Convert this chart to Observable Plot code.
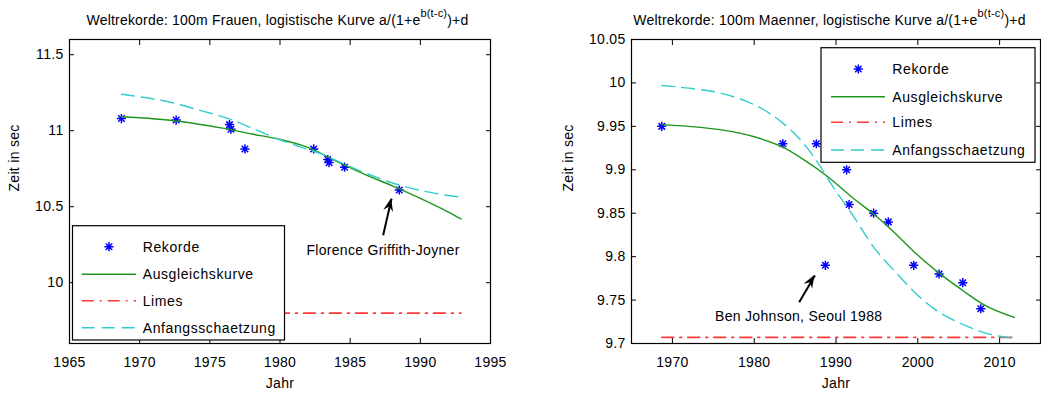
<!DOCTYPE html>
<html><head><meta charset="utf-8">
<script src="https://cdn.jsdelivr.net/npm/d3@7"></script>
<script src="https://cdn.jsdelivr.net/npm/@observablehq/plot@0.6"></script>
<style>
body{margin:0;background:#fff;color:#000;}
#wrap{position:relative;width:1041px;height:394px;overflow:hidden;}
#wrap > div{position:absolute;top:0;}
</style></head><body><div id="wrap"><div id="p1" style="left:0"></div><div id="p2" style="left:520px"></div></div>
<script>
// ---------- texts ----------
const titleWomen = "Weltrekorde: 100m Frauen, logistische Kurve a/(1+e";
const titleMen = "Weltrekorde: 100m Maenner, logistische Kurve a/(1+e";
const titleSup = "b(t-c)";
const titleEnd = ")+d";
const xLabel = "Jahr";
const yLabel = "Zeit in sec";
const legendLabels = ["Rekorde", "Ausgleichskurve", "Limes", "Anfangsschaetzung"];
const noteWomen = "Florence Griffith-Joyner";
const noteMen = "Ben Johnson, Seoul 1988";

// ---------- ticks ----------
const womenXTicks = [1965, 1970, 1975, 1980, 1985, 1990, 1995];
const womenYTicks = [10, 10.5, 11, 11.5];
const menXTicks = [1970, 1980, 1990, 2000, 2010];
const menYTicks = [9.7, 9.75, 9.8, 9.85, 9.9, 9.95, 10, 10.05];

// ---------- women data ----------
const womenYears = [1968.7, 1972.6, 1976.4, 1976.5, 1977.5, 1982.4, 1983.4, 1983.5, 1984.6, 1988.5];
const womenTimes = [11.08, 11.07, 11.04, 11.01, 10.88, 10.88, 10.81, 10.79, 10.76, 10.61];
const womenFitYears = [1968.7, 1970, 1972, 1974, 1976, 1978, 1980, 1982, 1984, 1986, 1988, 1990, 1992, 1992.9];
const womenFitTimes = [11.092, 11.085, 11.07, 11.046, 11.015, 10.978, 10.943, 10.89, 10.80, 10.715, 10.637, 10.555, 10.465, 10.42];
const womenStartYears = [1968.7, 1972.6, 1974.3, 1976.5, 1978.1, 1979.8, 1981.5, 1982.9, 1984.5, 1986.2, 1988.5, 1990.7, 1992.9];
const womenStartTimes = [11.24, 11.178, 11.134, 11.074, 11.013, 10.947, 10.892, 10.849, 10.783, 10.717, 10.642, 10.594, 10.562];
const womenLimesYears = [1968.7, 1992.9];
const womenLimes = 9.8;
const womenArrow = {x1: 1987.35, y1: 10.312, x2: 1987.95, y2: 10.553};
const womenNote = {x: 1987.34, y: 10.209};

// ---------- men data ----------
const menYears = [1968.7, 1983.5, 1987.6, 1988.7, 1991.3, 1991.6, 1994.6, 1996.4, 1999.5, 2002.6, 2005.5, 2007.7];
const menTimes = [9.95, 9.93, 9.93, 9.79, 9.90, 9.86, 9.85, 9.84, 9.79, 9.78, 9.77, 9.74];
const menFitYears = [1968.7, 1972, 1976, 1980, 1983.5, 1986, 1989, 1992, 1994.6, 1997, 1999.5, 2002.6, 2005.5, 2008, 2011.8];
const menFitTimes = [9.952, 9.950, 9.946, 9.938, 9.926, 9.912, 9.892, 9.868, 9.849, 9.829, 9.806, 9.781, 9.761, 9.745, 9.730];
const menStartYears = [1968.7, 1972, 1976, 1979, 1981, 1983.2, 1985, 1986.5, 1988, 1989.6, 1992.1, 1994.6, 1997.4, 1999.5, 2002.6, 2005.5, 2008.3, 2011.8];
const menStartTimes = [9.997, 9.994, 9.988, 9.979, 9.970, 9.956, 9.941, 9.925, 9.905, 9.881, 9.847, 9.811, 9.781, 9.760, 9.736, 9.722, 9.712, 9.706];
const menLimesYears = [1968.7, 2011.8];
const menLimes = 9.707;
const menArrow = {x1: 1985.5, y1: 9.7475, x2: 1987.42, y2: 9.7783};
const menNote = {x: 1985.44, y: 9.7313};

// ---------- styles ----------
const FONT = "'Liberation Sans', Arial, Helvetica, sans-serif";
const C_REC = "#0000ff", C_FIT = "#1e961e", C_LIM = "#ff3838", C_START = "#33cccc";
const DASH_LIM = "12,6,2,6", DASH_START = "13,7";

const star8 = {
  draw(ctx, size) {
    const r = Math.sqrt(size / Math.PI), d = r * Math.SQRT1_2;
    ctx.moveTo(0, -r); ctx.lineTo(0, r);
    ctx.moveTo(-r, 0); ctx.lineTo(r, 0);
    ctx.moveTo(-d, -d); ctx.lineTo(d, d);
    ctx.moveTo(-d, d); ctx.lineTo(d, -d);
  }
};

const zip = (xs, ys) => xs.map((x, i) => ({x, y: ys[i]}));
const fmt = d => String(+d.toFixed(2));

function makePanel(cfg) {
  const recs = zip(cfg.years, cfg.times);
  const fit = zip(cfg.fitYears, cfg.fitTimes);
  const start = zip(cfg.startYears, cfg.startTimes);
  const limes = cfg.limesYears.map(x => ({x, y: cfg.limes}));
  const svg = Plot.plot({
    width: cfg.width, height: 394,
    marginLeft: cfg.ml, marginRight: cfg.mr, marginTop: 39, marginBottom: 51,
    style: {fontSize: "14px", fontFamily: FONT, letterSpacing: "0.3px", background: "white", overflow: "visible"},
    x: {domain: cfg.xDomain},
    y: {domain: cfg.yDomain},
    marks: [
      Plot.axisX(cfg.xTicks, {anchor: "bottom", tickSize: 5, dy: -5, fill: "none", label: null}),
      Plot.axisX(cfg.xTicks, {anchor: "top", tickSize: 5, dy: 5, fill: "none", label: null}),
      Plot.axisY(cfg.yTicks, {anchor: "left", tickSize: 5, dx: 5, fill: "none", label: null}),
      Plot.axisY(cfg.yTicks, {anchor: "right", tickSize: 5, dx: -5, fill: "none", label: null}),
      Plot.axisX(cfg.xTicks, {anchor: "bottom", tickSize: 0, tickPadding: 14, label: null, tickFormat: d => String(d)}),
      Plot.axisY(cfg.yTicks, {anchor: "left", tickSize: 0, tickPadding: 6, label: null, tickFormat: fmt}),
      Plot.text([xLabel], {frameAnchor: "bottom", text: d => d, dy: 44}),
      Plot.text([yLabel], {frameAnchor: "left", text: d => d, rotate: -90, dx: cfg.yLabelDx}),
      Plot.dot(recs, {x: "x", y: "y", symbol: star8, r: 4.6, stroke: C_REC, fill: "none", strokeWidth: 1.5}),
      Plot.line(fit, {x: "x", y: "y", stroke: C_FIT, strokeWidth: 1.4, curve: "monotone-x"}),
      Plot.line(limes, {x: "x", y: "y", stroke: C_LIM, strokeWidth: 1.6, strokeDasharray: DASH_LIM}),
      Plot.line(start, {x: "x", y: "y", stroke: C_START, strokeWidth: 1.4, strokeDasharray: DASH_START, curve: "monotone-x"}),
      Plot.link([cfg.arrow], {x1: "x1", y1: "y1", x2: "x2", y2: "y2", stroke: "black", strokeWidth: 2}),
      Plot.text([cfg.note], {x: "x", y: "y", text: () => cfg.noteText, letterSpacing: "0.4px"}),
      Plot.frame({stroke: "black", strokeWidth: 1.2})
    ]
  });
  const sx = svg.scale("x"), sy = svg.scale("y");
  const S = d3.select(svg);
  // arrow head
  const tx = sx.apply(cfg.arrow.x2), ty = sy.apply(cfg.arrow.y2);
  const bx = sx.apply(cfg.arrow.x1), by = sy.apply(cfg.arrow.y1);
  const len = Math.hypot(tx - bx, ty - by), ux = (tx - bx) / len, uy = (ty - by) / len;
  const nx = -uy, ny = ux, L = 13, W = 5;
  const pts = [[tx, ty], [tx - L * ux + W * nx, ty - L * uy + W * ny], [tx - 0.65 * L * ux, ty - 0.65 * L * uy], [tx - L * ux - W * nx, ty - L * uy - W * ny]];
  S.append("path").attr("d", "M" + pts.map(p => p.join(",")).join("L") + "Z").attr("fill", "black");
  // title
  const cx = (cfg.ml + cfg.width - cfg.mr) / 2 + cfg.titleDx;
  const t = S.append("text").attr("x", cx).attr("y", 25).attr("text-anchor", "middle")
    .attr("font-size", 14).attr("font-family", FONT).style("letter-spacing", "0.2px").attr("fill", "black");
  t.append("tspan").text(cfg.title);
  t.append("tspan").attr("dy", -8).attr("font-size", 11).text(titleSup);
  t.append("tspan").attr("dy", 8).text(titleEnd);
  // legend
  const lg = cfg.legend;
  const g = S.append("g");
  g.append("rect").attr("x", lg.x).attr("y", lg.y).attr("width", lg.w).attr("height", lg.h)
    .attr("fill", "white").attr("stroke", "black").attr("stroke-width", 1.2);
  const p = d3.path(); star8.draw(p, Math.PI * 4.6 * 4.6);
  g.append("path").attr("d", p.toString()).attr("transform", `translate(${lg.starX},${lg.rows[0]})`)
    .attr("stroke", C_REC).attr("stroke-width", 1.5).attr("fill", "none");
  const lineStyles = [null, [C_FIT, null], [C_LIM, DASH_LIM], [C_START, DASH_START]];
  lineStyles.forEach((s, i) => {
    if (!s) return;
    g.append("line").attr("x1", lg.lx1).attr("x2", lg.lx2).attr("y1", lg.rows[i]).attr("y2", lg.rows[i])
      .attr("stroke", s[0]).attr("stroke-width", i === 2 ? 1.6 : 1.4).attr("stroke-dasharray", s[1]);
  });
  legendLabels.forEach((lab, i) => {
    g.append("text").attr("x", lg.tx).attr("y", lg.rows[i] + 5).text(lab).attr("text-anchor", "start")
      .attr("font-size", 14).attr("font-family", FONT).style("letter-spacing", "0.6px").attr("fill", "black");
  });
  return svg;
}

document.getElementById("p1").appendChild(makePanel({
  width: 520, ml: 69, mr: 30, titleDx: -2,
  xDomain: [1965, 1995], yDomain: [9.6, 11.6],
  xTicks: womenXTicks, yTicks: womenYTicks, yLabelDx: -55,
  years: womenYears, times: womenTimes,
  fitYears: womenFitYears, fitTimes: womenFitTimes,
  startYears: womenStartYears, startTimes: womenStartTimes,
  limesYears: womenLimesYears, limes: womenLimes,
  arrow: womenArrow, note: womenNote, noteText: noteWomen,
  title: titleWomen,
  legend: {x: 72.5, y: 225.7, w: 212, h: 114.3, rows: [246.7, 274.3, 300.7, 327.7], starX: 109, lx1: 81.7, lx2: 136, tx: 142.7}
}));

document.getElementById("p2").appendChild(makePanel({
  width: 521, ml: 111, mr: 1, titleDx: -6,
  xDomain: [1965, 2015], yDomain: [9.7, 10.05],
  xTicks: menXTicks, yTicks: menYTicks, yLabelDx: -63,
  years: menYears, times: menTimes,
  fitYears: menFitYears, fitTimes: menFitTimes,
  startYears: menStartYears, startTimes: menStartTimes,
  limesYears: menLimesYears, limes: menLimes,
  arrow: menArrow, note: menNote, noteText: noteMen,
  title: titleMen,
  legend: {x: 301, y: 47.7, w: 214, h: 114.6, rows: [69, 96.7, 122.3, 150], starX: 338.3, lx1: 311, lx2: 365, tx: 372.3}
}));
</script></body></html>
